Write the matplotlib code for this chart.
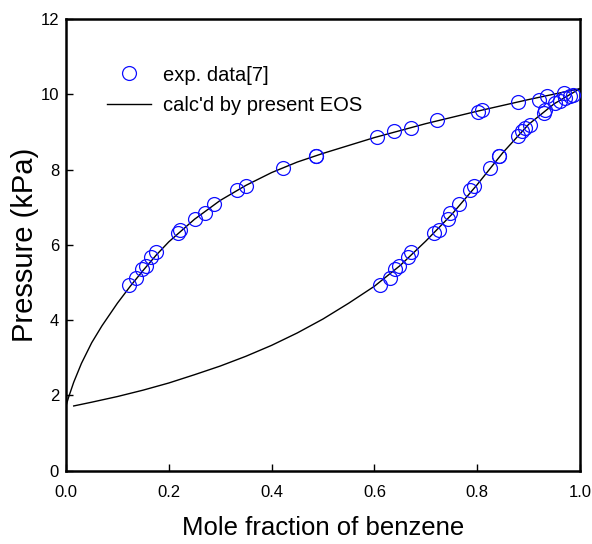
import matplotlib
matplotlib.use("Agg")
import matplotlib.pyplot as plt
from matplotlib import font_manager

# ---- data ----
# experimental liquid-side points (upper branch)
exp_x_liq = [0.123, 0.136, 0.147, 0.155, 0.165, 0.175, 0.217, 0.222, 0.251, 0.270,
             0.288, 0.332, 0.350, 0.422, 0.486, 0.487, 0.606, 0.638, 0.671, 0.721,
             0.802, 0.809, 0.880, 0.921, 0.935, 0.968, 0.987]
exp_p_liq = [4.93, 5.12, 5.36, 5.43, 5.68, 5.80, 6.31, 6.40, 6.70, 6.85,
             7.09, 7.47, 7.57, 8.04, 8.35, 8.36, 8.87, 9.02, 9.11, 9.33,
             9.52, 9.59, 9.80, 9.86, 9.95, 10.04, 9.99]
# experimental vapour-side points (lower branch)
exp_x_vap = [0.611, 0.630, 0.640, 0.647, 0.666, 0.671, 0.715, 0.726, 0.744, 0.748,
             0.765, 0.786, 0.794, 0.825, 0.842, 0.843, 0.880, 0.887, 0.893, 0.903,
             0.929, 0.932, 0.951, 0.961, 0.971, 0.980]
exp_p_vap = [4.93, 5.12, 5.36, 5.43, 5.68, 5.80, 6.31, 6.40, 6.70, 6.85,
             7.09, 7.47, 7.57, 8.04, 8.35, 8.36, 8.88, 9.02, 9.11, 9.19,
             9.50, 9.59, 9.77, 9.81, 9.90, 9.96]
# calculated curves (present EOS)
calc_x_bub = [0.0, 0.005, 0.015, 0.03, 0.05, 0.07, 0.10, 0.125, 0.15, 0.175, 0.20,
              0.25, 0.30, 0.35, 0.40, 0.45, 0.50, 0.60, 0.70, 0.80, 0.90, 1.0]
calc_p_bub = [1.72, 1.95, 2.35, 2.85, 3.40, 3.85, 4.45, 4.90, 5.32, 5.72, 6.08,
              6.68, 7.18, 7.58, 7.92, 8.20, 8.43, 8.85, 9.22, 9.55, 9.86, 10.15]
calc_x_dew = [0.015, 0.05, 0.10, 0.15, 0.20, 0.25, 0.30, 0.35, 0.40, 0.45, 0.50,
              0.55, 0.60, 0.65, 0.70, 0.75, 0.80, 0.85, 0.90, 0.95, 1.0]
calc_p_dew = [1.72, 1.82, 1.97, 2.14, 2.33, 2.55, 2.78, 3.04, 3.33, 3.66, 4.03,
              4.45, 4.90, 5.45, 6.10, 6.80, 7.60, 8.45, 9.20, 9.75, 10.15]

xticks = [0.0, 0.2, 0.4, 0.6, 0.8, 1.0]
xtick_labels = ["0.0", "0.2", "0.4", "0.6", "0.8", "1.0"]
yticks = [0, 2, 4, 6, 8, 10, 12]

names = {f.name for f in font_manager.fontManager.ttflist}
fam = ["Liberation Sans Narrow", "Liberation Sans", "DejaVu Sans"]
fam = [f for f in fam if f in names] + ["DejaVu Sans"]
plt.rcParams['font.family'] = fam

fig = plt.figure(figsize=(5.92, 5.44), dpi=100)
ax = fig.add_axes([66/592, 1 - 470.7/544, 514/592, (470.7 - 19)/544])

ax.plot(exp_x_liq, exp_p_liq, 'o', mfc='none', mec='#0f0fff', ms=10, mew=0.9,
        label='exp. data[7]', zorder=3)
ax.plot(exp_x_vap, exp_p_vap, 'o', mfc='none', mec='#0f0fff', ms=10, mew=0.9, zorder=3)
ax.plot(calc_x_bub, calc_p_bub, '-', color='black', lw=1.0,
        label="calc'd by present EOS", zorder=2)
ax.plot(calc_x_dew, calc_p_dew, '-', color='black', lw=1.0, zorder=2)

ax.set_xlim(0, 1)
ax.set_ylim(0, 12)
ax.set_xticks(xticks)
ax.set_xticklabels(xtick_labels)
ax.set_yticks(yticks)
ax.tick_params(direction='in', length=5, width=1, labelsize=12)
ax.tick_params(axis='x', pad=10)
ax.tick_params(axis='y', pad=5)
for s in ax.spines.values():
    s.set_linewidth(1.8)

ax.set_xlabel('Mole fraction of benzene', fontsize=18.5, labelpad=12)
ax.set_ylabel('Pressure (kPa)', fontsize=21, labelpad=1)

leg = ax.legend(loc='upper left', bbox_to_anchor=(0.079, 0.897), frameon=False,
                fontsize=14.5, handlelength=2.2, handletextpad=0.6,
                labelspacing=0.55, borderpad=0, borderaxespad=0)

fig.savefig('out.png', dpi=100)
